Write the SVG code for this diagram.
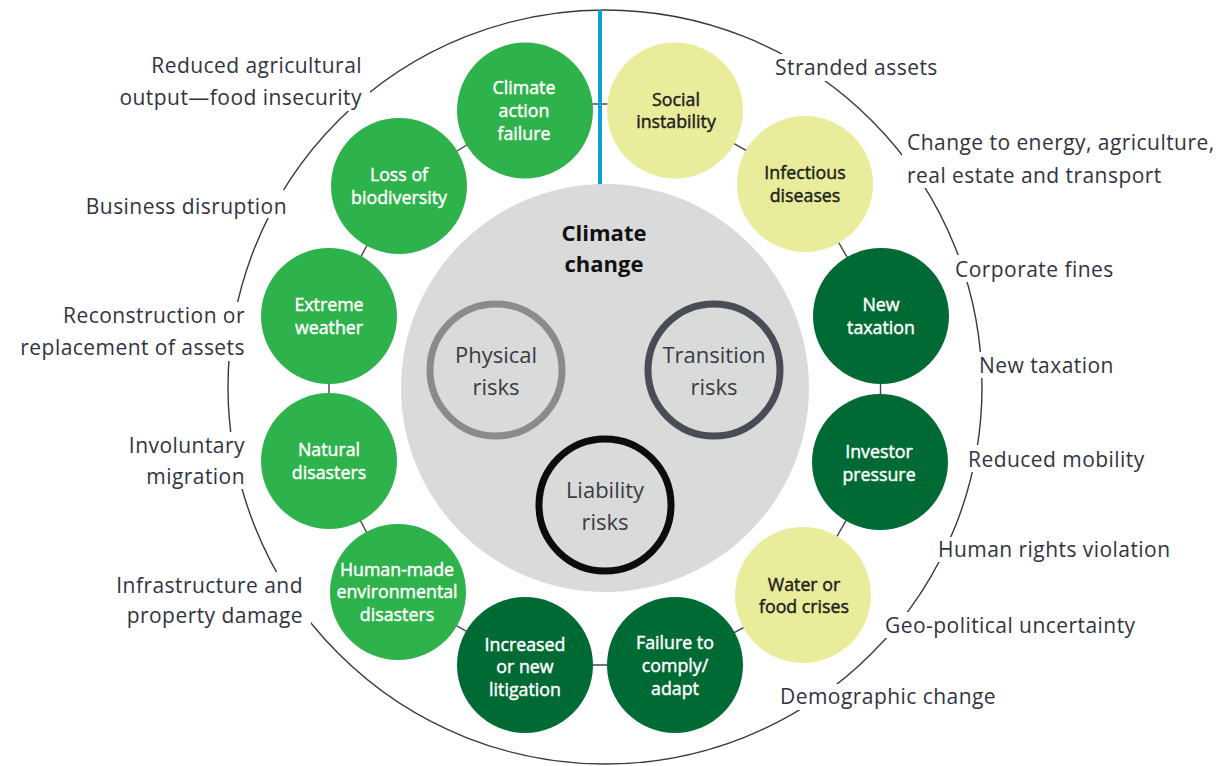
<svg xmlns="http://www.w3.org/2000/svg" width="1224" height="766" viewBox="0 0 1224 766">
<style>
.ring{fill:none;stroke:#3a3a3a;stroke-width:1.4}
.mask{fill:#fff}
.lbl{font-family:"Open Sans","Liberation Sans",sans-serif;font-size:21px;letter-spacing:0.45px;fill:#33333f}
.end{text-anchor:end}
.conn{stroke:#444;stroke-width:1.4;fill:none}
.bright{fill:#2eb24b}
.dark{fill:#006a35}
.yellow{fill:#e9ed9b}
.nt{font-family:"Open Sans","Liberation Sans",sans-serif;font-size:17.8px;font-weight:400;text-anchor:middle;stroke-width:0.45px}
.w{fill:#ffffff;stroke:#ffffff}
.k{fill:#1e1e1e;stroke:#1e1e1e}
.core{fill:#d9dada}
.rt{font-family:"Open Sans","Liberation Sans",sans-serif;font-size:22px;text-anchor:middle;fill:#3a3a44}
.rk{fill:none;stroke-width:7}
</style>
<g id="outer-ring">
<circle class="ring" cx="605" cy="387" r="377"/>
</g>
<g id="labels">
<rect class="mask" x="110" y="91" width="260" height="20"/>
<rect class="mask" x="80" y="190" width="211" height="28"/>
<rect class="mask" x="52" y="302" width="196" height="59"/>
<rect class="mask" x="122" y="432" width="126" height="57"/>
<rect class="mask" x="108" y="572" width="203" height="56"/>
<rect class="mask" x="772" y="54" width="176" height="27"/>
<rect class="mask" x="902" y="131" width="318" height="57"/>
<rect class="mask" x="952" y="255" width="170" height="27"/>
<rect class="mask" x="975" y="352" width="145" height="26"/>
<rect class="mask" x="965" y="445" width="190" height="27"/>
<rect class="mask" x="934" y="537" width="245" height="25"/>
<rect class="mask" x="882" y="612" width="268" height="26"/>
<rect class="mask" x="776" y="684" width="230" height="26"/>
<text class="lbl end" x="362" y="73">Reduced agricultural</text>
<text class="lbl end" x="362" y="105">output—food insecurity</text>
<text class="lbl end" x="287" y="214">Business disruption</text>
<text class="lbl end" x="245" y="323">Reconstruction or</text>
<text class="lbl end" x="245" y="355">replacement of assets</text>
<text class="lbl end" x="245" y="453">Involuntary</text>
<text class="lbl end" x="245" y="484">migration</text>
<text class="lbl end" x="303" y="593">Infrastructure and</text>
<text class="lbl end" x="303" y="623">property damage</text>
<text class="lbl" x="775" y="75">Stranded assets</text>
<text class="lbl" x="907" y="150">Change to energy, agriculture,</text>
<text class="lbl" x="907" y="183">real estate and transport</text>
<text class="lbl" x="955" y="277">Corporate fines</text>
<text class="lbl" x="979" y="373">New taxation</text>
<text class="lbl" x="968" y="467">Reduced mobility</text>
<text class="lbl" x="938" y="557">Human rights violation</text>
<text class="lbl" x="885" y="633">Geo-political uncertainty</text>
<text class="lbl" x="780" y="704">Demographic change</text>
</g>
<g id="connectors">
<line class="conn" x1="585" y1="104" x2="615" y2="104"/>
<line class="conn" x1="525" y1="110" x2="399" y2="186"/>
<line class="conn" x1="399" y1="186" x2="329" y2="316"/>
<line class="conn" x1="329" y1="316" x2="329" y2="461"/>
<line class="conn" x1="329" y1="461" x2="398" y2="592"/>
<line class="conn" x1="398" y1="592" x2="525" y2="665"/>
<line class="conn" x1="525" y1="665" x2="675" y2="665"/>
<line class="conn" x1="675" y1="665" x2="803" y2="595"/>
<line class="conn" x1="803" y1="595" x2="880" y2="462"/>
<line class="conn" x1="880" y1="462" x2="881" y2="316"/>
<line class="conn" x1="881" y1="316" x2="805" y2="184"/>
<line class="conn" x1="805" y1="184" x2="675" y2="110"/>
</g>
<g id="divider">
<line x1="600" y1="10" x2="600" y2="186" stroke="#0aa2dd" stroke-width="4"/>
</g>
<g id="climate-change">
<circle class="core" cx="605" cy="388" r="204"/>
<text x="604" y="241" font-family="'Open Sans','Liberation Sans',sans-serif" font-size="22" font-weight="700" text-anchor="middle" fill="#111">Climate</text>
<text x="604" y="272" font-family="'Open Sans','Liberation Sans',sans-serif" font-size="22" font-weight="700" text-anchor="middle" fill="#111">change</text>
</g>
<g id="physical-risks">
<circle class="rk" cx="496" cy="370" r="66" stroke="#8a8b8e"/>
<text class="rt" x="496" y="363">Physical</text>
<text class="rt" x="496" y="395">risks</text>
</g>
<g id="transition-risks">
<circle class="rk" cx="714" cy="370" r="66" stroke="#494b55"/>
<text class="rt" x="714" y="363">Transition</text>
<text class="rt" x="714" y="395">risks</text>
</g>
<g id="liability-risks">
<circle class="rk" cx="605" cy="505" r="66" stroke="#0c0c0c"/>
<text class="rt" x="605" y="498">Liability</text>
<text class="rt" x="605" y="530">risks</text>
</g>
<g id="climate-action-failure">
<circle class="bright" cx="525" cy="110.5" r="68"/>
<text class="nt w" x="524" y="94">Climate</text>
<text class="nt w" x="524" y="117">action</text>
<text class="nt w" x="524" y="140">failure</text>
</g>
<g id="social-instability">
<circle class="yellow" cx="675" cy="110.5" r="68"/>
<text class="nt k" x="676" y="106">Social</text>
<text class="nt k" x="676" y="128">instability</text>
</g>
<g id="loss-of-biodiversity">
<circle class="bright" cx="399" cy="186" r="68"/>
<text class="nt w" x="399" y="181">Loss of</text>
<text class="nt w" x="399" y="204">biodiversity</text>
</g>
<g id="infectious-diseases">
<circle class="yellow" cx="805" cy="184" r="68"/>
<text class="nt k" x="805" y="179">Infectious</text>
<text class="nt k" x="805" y="202">diseases</text>
</g>
<g id="extreme-weather">
<circle class="bright" cx="329" cy="316" r="68"/>
<text class="nt w" x="329" y="311">Extreme</text>
<text class="nt w" x="329" y="334">weather</text>
</g>
<g id="new-taxation">
<circle class="dark" cx="881" cy="316" r="68"/>
<text class="nt w" x="881" y="311">New</text>
<text class="nt w" x="881" y="334">taxation</text>
</g>
<g id="natural-disasters">
<circle class="bright" cx="329" cy="461" r="68"/>
<text class="nt w" x="329" y="456">Natural</text>
<text class="nt w" x="329" y="479">disasters</text>
</g>
<g id="investor-pressure">
<circle class="dark" cx="880" cy="462" r="68"/>
<text class="nt w" x="879" y="458">Investor</text>
<text class="nt w" x="879" y="481">pressure</text>
</g>
<g id="human-made-environmental-disasters">
<circle class="bright" cx="398" cy="592" r="68"/>
<text class="nt w" x="397" y="576">Human-made</text>
<text class="nt w" x="397" y="598">environmental</text>
<text class="nt w" x="397" y="621">disasters</text>
</g>
<g id="increased-or-new-litigation">
<circle class="dark" cx="525" cy="665" r="68"/>
<text class="nt w" x="525" y="651">Increased</text>
<text class="nt w" x="525" y="673">or new</text>
<text class="nt w" x="525" y="696">litigation</text>
</g>
<g id="failure-to-comply-adapt">
<circle class="dark" cx="675" cy="665" r="68"/>
<text class="nt w" x="675" y="649">Failure to</text>
<text class="nt w" x="675" y="672">comply/</text>
<text class="nt w" x="675" y="695">adapt</text>
</g>
<g id="water-or-food-crises">
<circle class="yellow" cx="803" cy="595" r="68"/>
<text class="nt k" x="804" y="591">Water or</text>
<text class="nt k" x="804" y="613">food crises</text>
</g>
</svg>
